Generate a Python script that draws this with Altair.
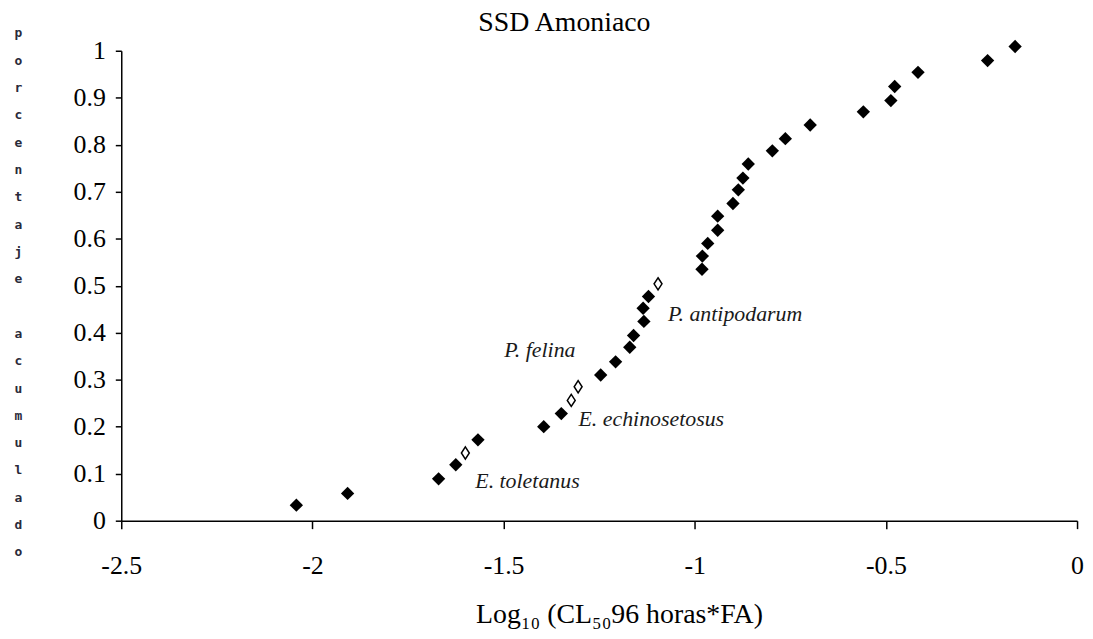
import altair as alt
import pandas as pd

# Log10 (CL50 96 h * FA) per species
x_vals = [-2.042, -1.908, -1.670, -1.625, -1.600, -1.567, -1.395, -1.349, -1.323,
          -1.305, -1.246, -1.207, -1.170, -1.160, -1.133, -1.135, -1.121, -1.096,
          -0.981, -0.980, -0.966, -0.940, -0.940, -0.900, -0.886, -0.874, -0.860,
          -0.797, -0.763, -0.698, -0.559, -0.487, -0.477, -0.416, -0.234, -0.162]
# cumulative fraction
y_vals = [0.033, 0.058, 0.089, 0.119, 0.144, 0.172, 0.200, 0.228, 0.256,
          0.285, 0.310, 0.338, 0.369, 0.394, 0.424, 0.452, 0.477, 0.504,
          0.535, 0.563, 0.590, 0.618, 0.648, 0.675, 0.704, 0.729, 0.759,
          0.787, 0.813, 0.842, 0.870, 0.894, 0.924, 0.954, 0.979, 1.009]
kinds = ["filled", "filled", "filled", "filled", "open", "filled", "filled", "filled", "open",
         "open", "filled", "filled", "filled", "filled", "filled", "filled", "filled", "open",
         "filled", "filled", "filled", "filled", "filled", "filled", "filled", "filled", "filled",
         "filled", "filled", "filled", "filled", "filled", "filled", "filled", "filled", "filled"]

label_text = ["E. toletanus", "E. echinosetosus", "P. felina", "P. antipodarum"]
label_x = [-1.574, -1.304, -1.498, -1.070]
label_y = [0.070, 0.202, 0.349, 0.424]

title_text = ["SSD Amoniaco"]

x_ticks = [-2.5, -2, -1.5, -1, -0.5, 0]
y_ticks = [0, 0.1, 0.2, 0.3, 0.4, 0.5, 0.6, 0.7, 0.8, 0.9, 1]
# vertical, one letter per line; the blank line between the two words is a blank glyph
y_title = ["p", "o", "r", "c", "e", "n", "t", "a", "j", "e", "\u2800",
           "a", "c", "u", "m", "u", "l", "a", "d", "o"]

SERIF = "Liberation Serif"

pts = pd.DataFrame({"x": x_vals, "y": y_vals, "kind": kinds})
labs = pd.DataFrame({"x": label_x, "y": label_y, "t": label_text})
ttl = pd.DataFrame({"t": title_text})

xs = alt.Scale(domain=[-2.5, 0], nice=False, zero=False)
ys = alt.Scale(domain=[0, 1], nice=False, zero=False)

x_axis = alt.Axis(
    values=x_ticks, labelExpr="'' + datum.value", grid=False,
    domainColor="black", domainWidth=1.5, tickColor="black", tickWidth=1.5, tickSize=8,
    labelFont=SERIF, labelFontSize=26, labelColor="black", labelPadding=24,
    labelFlush=False, labelOverlap=False,
    title="Log₁₀ (CL₅₀96 horas*FA)", titleFont=SERIF, titleFontSize=28,
    titleFontWeight="normal", titleColor="black", titleX=501, titleY=102,
    titleAlign="center", titleBaseline="alphabetic",
)
y_axis = alt.Axis(
    values=y_ticks, labelExpr="'' + datum.value", grid=False,
    domainColor="black", domainWidth=1.5, tickColor="black", tickWidth=1.5, tickSize=6,
    labelFont=SERIF, labelFontSize=26, labelColor="black", labelPadding=10,
    labelFlush=False, labelOverlap=False,
    title=y_title, titleAngle=0, titleX=-104, titleY=-24, titleAlign="center",
    titleBaseline="top", titleFont="DejaVu Sans Mono", titleFontSize=13,
    titleFontWeight="bold", titleColor="#2a2a3a", titleLineHeight=27.5,
)

filled = alt.Chart(pts).transform_filter(alt.datum.kind == "filled").mark_point(
    shape="diamond", filled=True, size=180, color="black", opacity=1
).encode(
    x=alt.X("x:Q", scale=xs, axis=x_axis),
    y=alt.Y("y:Q", scale=ys, axis=y_axis),
)

hollow = alt.Chart(pts).transform_filter(alt.datum.kind == "open").mark_point(
    shape="M0,-1L0.65,0L0,1L-0.65,0Z", filled=True, fill="white", stroke="black",
    strokeWidth=1.5, size=150, opacity=1
).encode(
    x=alt.X("x:Q", scale=xs),
    y=alt.Y("y:Q", scale=ys),
)

texts = alt.Chart(labs).mark_text(
    align="left", baseline="alphabetic", font=SERIF, fontStyle="italic",
    fontSize=22, color="#1a1a1a"
).encode(
    x=alt.X("x:Q", scale=xs),
    y=alt.Y("y:Q", scale=ys),
    text="t:N",
)

# chart title, placed above the plot area
title_mark = alt.Chart(ttl).mark_text(
    align="center", baseline="alphabetic", font=SERIF, fontSize=28, color="black"
).encode(
    x=alt.value(446),
    y=alt.value(-20),
    text="t:N",
)

chart = alt.layer(filled, hollow, texts, title_mark).properties(
    width=962, height=473,
    autosize=alt.AutoSizeParams(type="none"),
    padding={"left": 114, "top": 41, "right": 8, "bottom": 109},
).configure(background="white").configure_view(stroke=None)

chart.save("out.html", embed_options={"renderer": "svg", "actions": False})
